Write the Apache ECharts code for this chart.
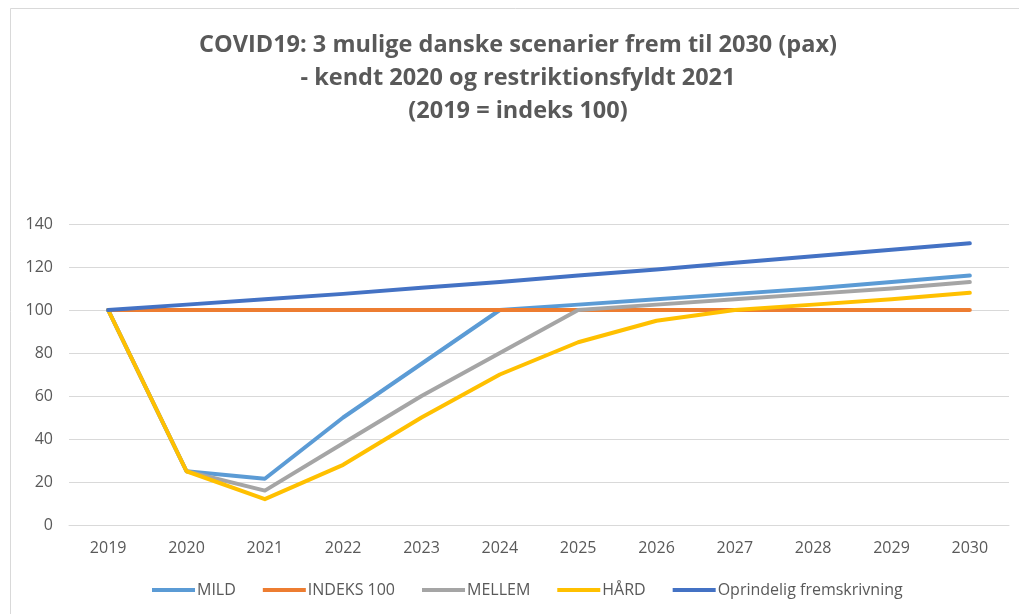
<!DOCTYPE html>
<html>
<head>
<meta charset="utf-8">
<script src="https://cdn.jsdelivr.net/npm/echarts@6/dist/echarts.min.js"></script>
<style>
  html, body { margin: 0; padding: 0; background: #fff; }
  #chart { width: 1019px; height: 614px; }
</style>
</head>
<body>
<div id="chart"></div>
<script>
const years = ["2019", "2020", "2021", "2022", "2023", "2024", "2025", "2026", "2027", "2028", "2029", "2030"];
const mild = [100, 25, 21.5, 50, 75, 100, 102.5, 105, 107.5, 110, 113, 116];
const indeks100 = [100, 100, 100, 100, 100, 100, 100, 100, 100, 100, 100, 100];
const mellem = [100, 25, 16, 38, 60, 80, 100, 102.5, 105, 107.5, 110, 113];
const haard = [100, 25, 12, 28, 50, 70, 85, 95, 100, 102.5, 105, 108];
const oprindelig = [100, 102.5, 105, 107.5, 110.3, 113, 116, 118.8, 122, 125, 128, 131];

const font = "'Open Sans', 'Liberation Sans', sans-serif";
const textColor = "#595959";

// one line series, Excel-like
function line(name, data, color) {
  return {
    name: name,
    type: "line",
    data: data,
    symbol: "none",
    lineStyle: { color: color, width: 4, cap: "round", join: "round" },
    itemStyle: { color: color },
    emphasis: { disabled: true },
    animation: false
  };
}

const chart = echarts.init(document.getElementById("chart"));
chart.setOption({
  backgroundColor: "#fff",
  title: {
    text: "COVID19: 3 mulige danske scenarier frem til 2030 (pax)\n- kendt 2020 og restriktionsfyldt 2021\n(2019 = indeks 100)",
    left: 513,
    top: 24,
    textAlign: "center",
    textStyle: {
      fontFamily: font,
      fontSize: 23.5,
      fontWeight: "bold",
      color: textColor,
      lineHeight: 33
    }
  },
  graphic: [{
    type: "rect",
    shape: { x: 10.5, y: 8.5, width: 1030, height: 620 },
    style: { fill: "none", stroke: "#d9d9d9", lineWidth: 1 },
    silent: true
  }],
  legend: {
    top: 577,
    left: 147,
    itemWidth: 43,
    itemHeight: 4,
    itemGap: 27,
    icon: "rect",
    textStyle: { fontFamily: font, fontSize: 16, color: textColor, padding: [0, 0, 0, -3] },
    data: ["MILD", "INDEKS 100", "MELLEM", "HÅRD", "Oprindelig fremskrivning"]
  },
  grid: { left: 69, right: 10, top: 224, bottom: 89, containLabel: false },
  xAxis: {
    type: "category",
    data: years,
    boundaryGap: true,
    axisLine: { show: true, lineStyle: { color: "#d9d9d9", width: 1 } },
    axisTick: { show: false },
    axisLabel: { fontFamily: font, fontSize: 16, color: textColor, margin: 15 }
  },
  yAxis: {
    type: "value",
    min: 0,
    max: 140,
    interval: 20,
    axisLine: { show: false },
    axisTick: { show: false },
    splitLine: { lineStyle: { color: "#d9d9d9", width: 1 } },
    axisLabel: { fontFamily: font, fontSize: 16, color: textColor, margin: 16 }
  },
  series: [
    line("MILD", mild, "#5B9BD5"),
    line("INDEKS 100", indeks100, "#ED7D31"),
    line("MELLEM", mellem, "#A5A5A5"),
    line("HÅRD", haard, "#FFC000"),
    line("Oprindelig fremskrivning", oprindelig, "#4472C4")
  ]
});
</script>
</body>
</html>
